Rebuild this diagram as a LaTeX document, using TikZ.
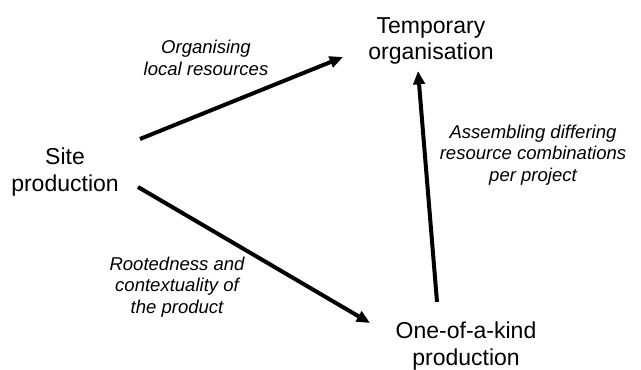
\documentclass[tikz,border=0pt]{standalone}
\usepackage{fontspec}
\setmainfont{Liberation Sans}
\usetikzlibrary{arrows.meta}

\begin{document}
\begin{tikzpicture}[
    x=0.75pt, y=-0.75pt,
    concept/.style={align=center, inner sep=0pt, font=\fontsize{17.25}{20}\selectfont},
    mechanism/.style={align=center, inner sep=0pt, font=\fontsize{13.9}{16}\selectfont\itshape},
    link/.style={line width=3pt, -{Triangle[length=10pt, width=8.5pt]}}
]
\useasboundingbox (0,0) rectangle (641,370);

% Concepts
\node[concept] (site) at (65,172) {Site\\production};
\node[concept] (temp) at (431,41) {Temporary\\organisation};
\node[concept] (one) at (466,346) {One-of-a-kind\\production};

% Mechanisms
\node[mechanism] (org) at (206,58) {Organising\\local resources};
\node[mechanism] (root) at (177,287) {Rootedness and\\contextuality of\\the product};
\node[mechanism] (assem) at (533,155) {Assembling differing\\resource combinations\\per project};

% Links
\draw[link] ([shift={(75,-33)}]site.center) -- ([shift={(-88,16)}]temp.center);
\draw[link] ([shift={(73,15)}]site.center) -- ([shift={(-96,-23)}]one.center);
\draw[link] ([shift={(-29,-44)}]one.center) -- ([shift={(-13,30)}]temp.center);

\end{tikzpicture}
\end{document}
